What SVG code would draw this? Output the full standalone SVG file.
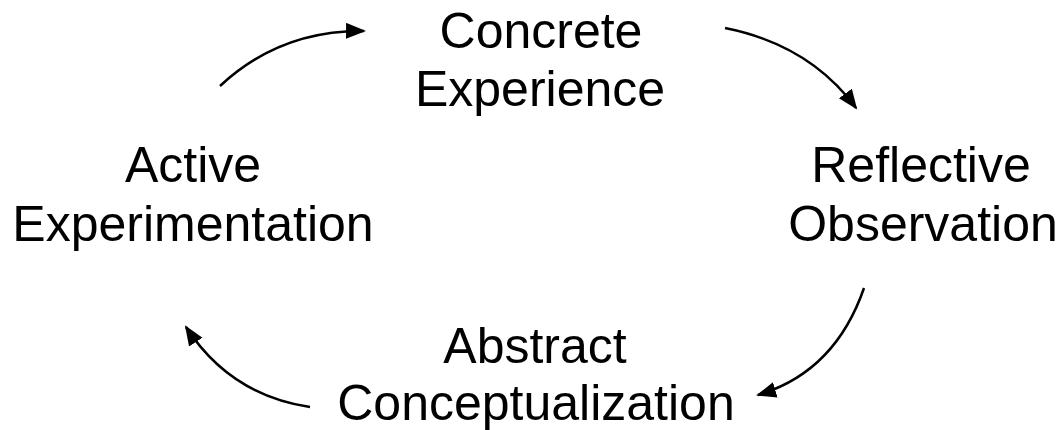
<svg xmlns="http://www.w3.org/2000/svg" width="1063" height="430" viewBox="0 0 1063 430">
<style>
text{font-family:"Liberation Sans",Arial,sans-serif;font-size:50px;fill:#000;text-anchor:middle}
.c{fill:none;stroke:#000;stroke-width:2.5}
</style>
<defs>
<marker id="ah" markerUnits="userSpaceOnUse" markerWidth="22" markerHeight="18" refX="18" refY="8" orient="auto">
<polygon points="0,0 20,8 0,16" fill="#000"/>
</marker>
</defs>
<rect width="1063" height="430" fill="#fff"/>
<g id="concrete"><text x="541" y="48">Concrete</text><text x="540" y="106">Experience</text></g>
<g id="reflective"><text x="921" y="182">Reflective</text><text x="923" y="241">Observation</text></g>
<g id="abstract"><text x="535" y="363">Abstract</text><text x="536" y="420">Conceptualization</text></g>
<g id="active"><text x="193" y="182">Active</text><text x="193" y="241">Experimentation</text></g>
<g id="connectors">
<path class="c" d="M220,86 Q280,30 364,31" marker-end="url(#ah)"/>
<path class="c" d="M725,28 Q810,45 856,108" marker-end="url(#ah)"/>
<path class="c" d="M864,288 Q835,372 758,395" marker-end="url(#ah)"/>
<path class="c" d="M310,407 Q230,395 186,327" marker-end="url(#ah)"/>
</g>
</svg>
